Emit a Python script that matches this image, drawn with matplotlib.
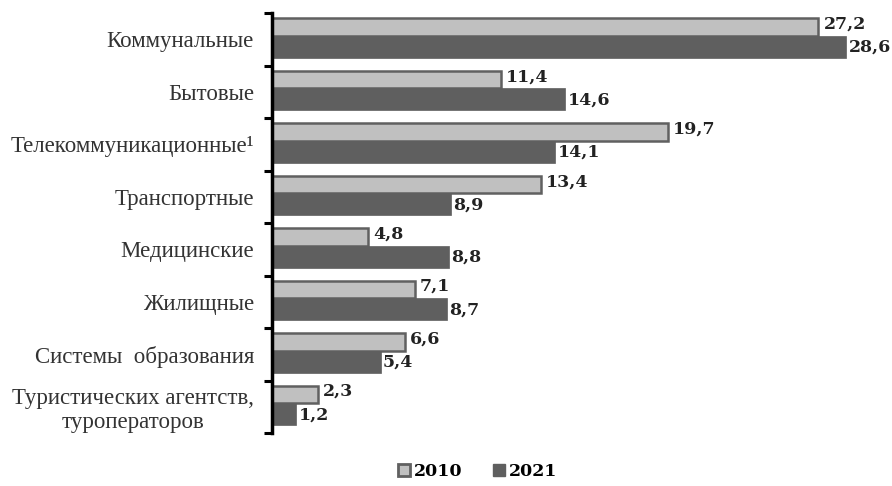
import matplotlib.pyplot as plt
import numpy as np
from matplotlib.lines import Line2D

categories = ["Коммунальные", "Бытовые", "Телекоммуникационные¹", "Транспортные",
              "Медицинские", "Жилищные", "Системы  образования",
              "Туристических агентств,\nтуроператоров"]
vals_2010 = [27.2, 11.4, 19.7, 13.4, 4.8, 7.1, 6.6, 2.3]
vals_2021 = [28.6, 14.6, 14.1, 8.9, 8.8, 8.7, 5.4, 1.2]
years = ["2010", "2021"]

light = "#c0c0c0"
dark = "#5f5f5f"
edge = "#606060"

fig = plt.figure(figsize=(8.92, 4.86), dpi=100)
ax = fig.add_axes([0.305, 0.109, 0.68, 0.864])

y = np.arange(len(categories))
ax.barh(y - 0.235, vals_2010, height=0.33, color=light, edgecolor=edge, linewidth=1.8)
ax.barh(y + 0.145, vals_2021, height=0.42, color=dark, edgecolor=dark, linewidth=0.5)

fmt = lambda v: f"{v:.1f}".replace(".", ",")
for i in range(len(categories)):
    ax.text(vals_2010[i] + 0.25, y[i] - 0.29, fmt(vals_2010[i]), va="center", ha="left",
            fontsize=12.5, fontweight="bold", family="DejaVu Serif", color="#222222")
    ax.text(vals_2021[i] + 0.12, y[i] + 0.15, fmt(vals_2021[i]), va="center", ha="left",
            fontsize=12.5, fontweight="bold", family="DejaVu Serif", color="#222222")

ax.set_xlim(0, 30.2)
ax.set_ylim(len(categories) - 0.5, -0.5)

# boundaries as major ticks, names as minor labels
ax.set_yticks(np.arange(-0.5, len(categories), 1.0))
ax.set_yticklabels([])
ax.tick_params(axis="y", which="major", length=6, width=2.2, direction="out")
ax.set_yticks(y, minor=True)
ax.set_yticklabels(categories, minor=True, family="Liberation Serif", fontsize=16.5,
                   color="#333333")
ax.tick_params(axis="y", which="minor", length=0, pad=13)
for lab in ax.get_yticklabels(minor=True):
    lab.set_multialignment("center")

ax.set_xticks([])
for s in ["top", "right", "bottom"]:
    ax.spines[s].set_visible(False)
ax.spines["left"].set_linewidth(2.5)

handles = [Line2D([], [], marker="s", linestyle="none", markersize=9,
                  markerfacecolor=light, markeredgecolor=edge, markeredgewidth=2),
           Line2D([], [], marker="s", linestyle="none", markersize=9,
                  markerfacecolor=dark, markeredgecolor=dark)]
fig.legend(handles, years, loc="lower center", bbox_to_anchor=(0.534, -0.02), ncol=2,
           frameon=False, handletextpad=0.05, columnspacing=1.6, handlelength=1.0,
           prop={"family": "DejaVu Serif", "weight": "bold", "size": 12.5})

fig.savefig("out.png", dpi=100)
